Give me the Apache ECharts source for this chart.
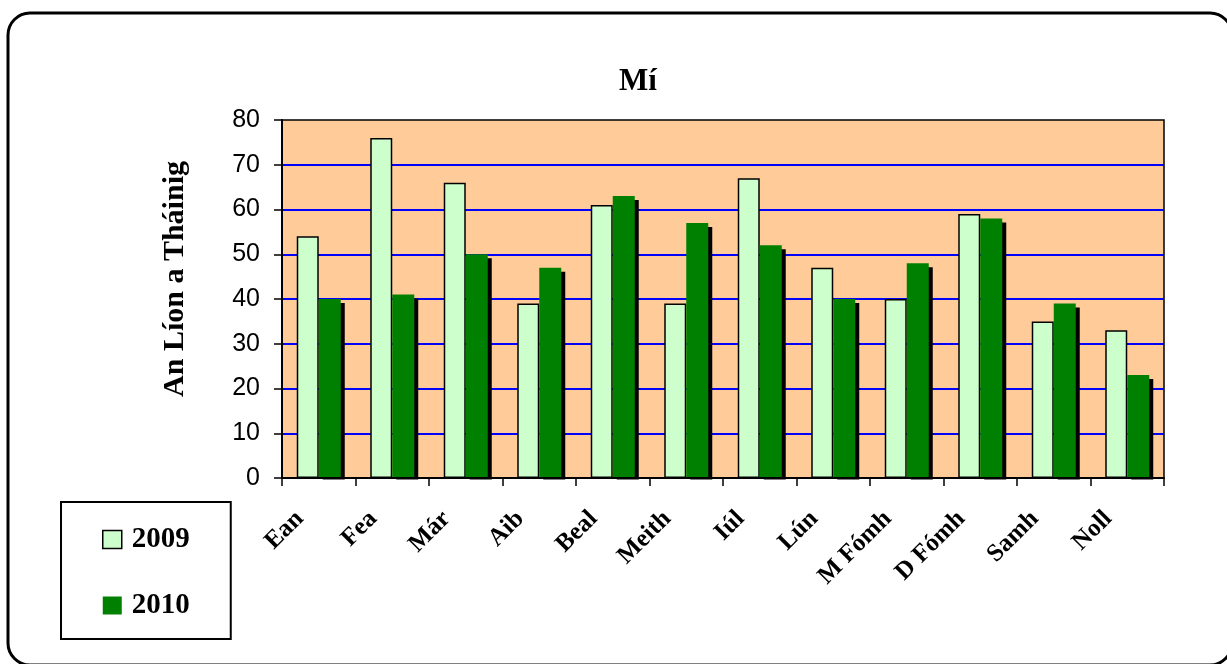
<!DOCTYPE html>
<html>
<head>
<meta charset="utf-8">
<script src="https://cdn.jsdelivr.net/npm/echarts@6/dist/echarts.min.js"></script>
<style>
html,body{margin:0;padding:0;background:#fff;}
#c{width:1227px;height:664px;}
</style>
</head>
<body>
<div id="c"></div>
<script>
var categories = ['Ean','Fea','Már','Aib','Beal','Meith','Iúl','Lún','M Fómh','D Fómh','Samh','Noll'];
var values2009 = [54,76,66,39,61,39,67,47,40,59,35,33];
var values2010 = [40,41,50,47,63,57,52,40,48,58,39,23];
var seriesNames = ['2009','2010'];
var titleText = 'Mí';
var yAxisName = 'An Líon a Tháinig';

var serif = '"Liberation Serif","Times New Roman",serif';
var sans = '"Liberation Sans",Arial,sans-serif';

var chart = echarts.init(document.getElementById('c'), null, {renderer:'canvas'});
chart.setOption({
  animation:false,
  backgroundColor:'#fff',
  title:{text:titleText,left:633,top:61,textAlign:'center',
    textStyle:{fontFamily:serif,fontWeight:'bold',fontSize:31,color:'#000'}},
  legend:{
    orient:'vertical',left:61,top:502,
    padding:[23,41,19,41],itemGap:37,itemWidth:19,itemHeight:18,
    borderColor:'#000',borderWidth:2,
    icon:'rect',
    textStyle:{fontFamily:serif,fontWeight:'bold',fontSize:29,color:'#000',padding:[0,0,0,5]},
    data:[
      {name:seriesNames[0],itemStyle:{color:'#CCFFCC',borderColor:'#000',borderWidth:1.5}},
      {name:seriesNames[1],itemStyle:{color:'#008000',borderWidth:0,shadowBlur:0,shadowOffsetX:0,shadowOffsetY:0,shadowColor:'transparent'}}
    ]
  },
  grid:{left:282,right:63,top:120,bottom:186,show:true,backgroundColor:'#FFCC99',borderColor:'#000',borderWidth:1.5},
  xAxis:{
    type:'category',data:categories,z:10,
    axisLine:{lineStyle:{color:'#000',width:2}},
    axisTick:{show:true,length:8,lineStyle:{color:'#000',width:1.5}},
    axisLabel:{rotate:45,margin:18,interval:0,padding:[0,27,0,0],fontFamily:serif,fontWeight:'bold',fontSize:25,color:'#000'}
  },
  yAxis:{
    type:'value',min:0,max:80,interval:10,
    name:yAxisName,nameLocation:'middle',nameGap:92,
    nameTextStyle:{fontFamily:serif,fontWeight:'bold',fontSize:30,color:'#000',padding:[0,0,0,40]},
    axisLine:{show:true,lineStyle:{color:'#000',width:2}},
    axisTick:{show:true,length:8,lineStyle:{color:'#000',width:1.5}},
    axisLabel:{margin:22,fontFamily:sans,fontSize:25,color:'#000'},
    splitLine:{show:true,showMaxLine:false,lineStyle:{color:'#0000FF',width:2}}
  },
  series:[
    {name:seriesNames[0],type:'bar',data:values2009,barWidth:22,barGap:'0%',
      itemStyle:{color:'#CCFFCC',borderColor:'#000',borderWidth:1.5}},
    {name:seriesNames[1],type:'bar',data:values2010,barWidth:22,barGap:'0%',
      itemStyle:{color:'#008000',shadowColor:'#000',shadowBlur:0,shadowOffsetX:4,shadowOffsetY:4}}
  ],
  graphic:[
    {type:'rect',shape:{x:282,y:479.5,width:890,height:5},style:{fill:'#fff'},silent:true,z:5},
    {type:'rect',shape:{x:8,y:13,width:1224,height:652,r:22},
      style:{fill:'none',stroke:'#000',lineWidth:3},silent:true,z:100}
  ]
});
</script>
</body>
</html>
